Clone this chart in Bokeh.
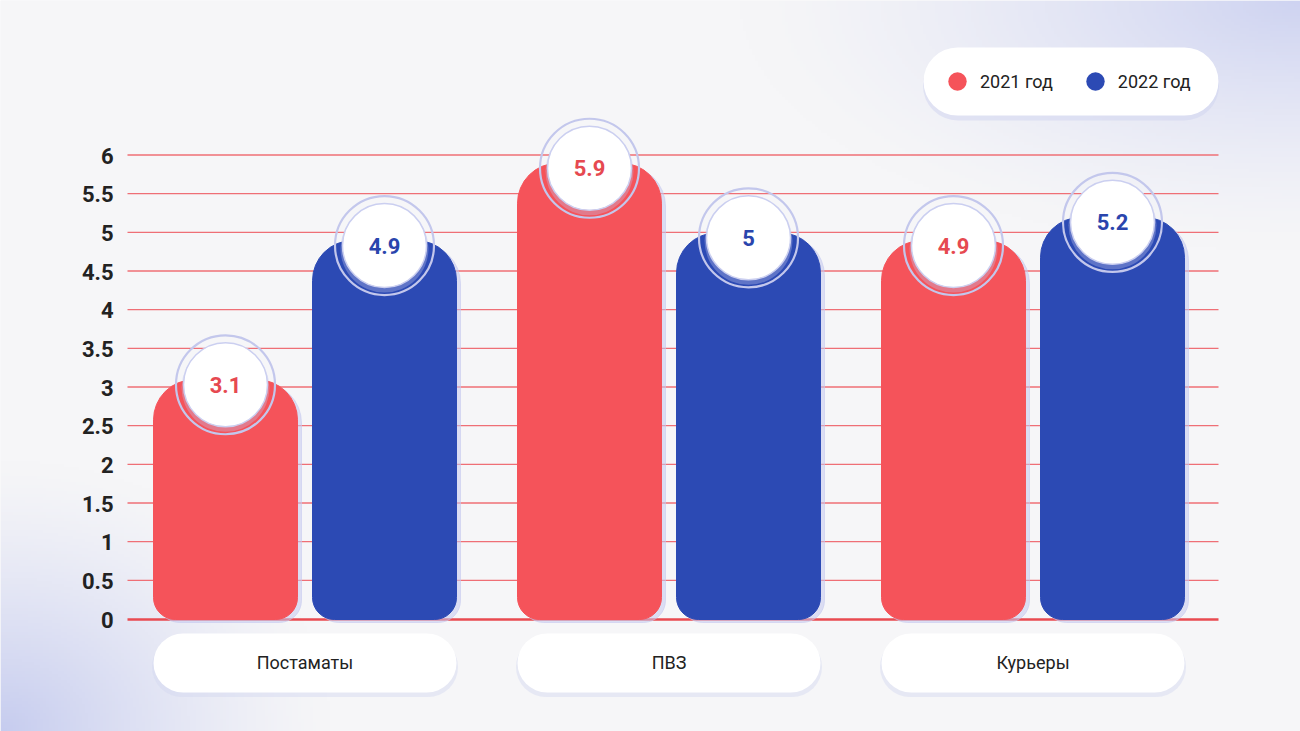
import numpy as np
from bokeh.plotting import figure
from bokeh.models import (Range1d, LinearAxis, FixedTicker, ColumnDataSource,
                          Legend, LegendItem)
from bokeh.transform import dodge
from bokeh.core.properties import value
from bokeh.embed import file_html
from bokeh.resources import INLINE

# ---------------- data ----------------
categories = ["Постаматы", "ПВЗ", "Курьеры"]
years = ["2021 год", "2022 год"]
values_2021 = [3.1, 5.9, 4.9]
values_2022 = [4.9, 5.0, 5.2]
labels_2021 = ["3.1", "5.9", "4.9"]
labels_2022 = ["4.9", "5", "5.2"]
y_ticks = [0, 0.5, 1, 1.5, 2, 2.5, 3, 3.5, 4, 4.5, 5, 5.5, 6]
y_tick_labels = ["0", "0.5", "1", "1.5", "2", "2.5", "3", "3.5", "4", "4.5", "5", "5.5", "6"]

# ---------------- layout constants (page pixels) ----------------
W, H = 1300, 731
OFF = 0
Y0_PX, Y6_PX = 619.0, 155.0
PPY = (Y0_PX - Y6_PX) / 6.0          # pixels per y unit
G0_PX, GSTEP = 304.5, 364.0          # first group centre, group spacing


def dx(px):
    return (px - G0_PX) / GSTEP


def dy(py):
    return (Y0_PX - py) / PPY


RED = "#f5535a"
BLUE = "#2c4ab4"
RED_TXT = "#e64950"
BLUE_TXT = "#2a45ad"
BAR_OFF = 79.5 / GSTEP
BAR_W = 144.0 / GSTEP

p = figure(width=W, height=H, output_backend="svg", toolbar_location=None,
           x_range=Range1d(dx(OFF), dx(OFF + W)),
           y_range=Range1d(dy(OFF + H), dy(OFF)),
           x_axis_type=None, y_axis_type=None, min_border=0)
p.outline_line_color = None
p.background_fill_color = "#f5f5f7"
p.border_fill_color = "#f5f5f7"
p.xgrid.visible = False
p.ygrid.visible = False

# ---------------- background gradient ----------------
step = 3
gw, gh = W // step + 1, H // step + 1
jj, ii = np.meshgrid(np.arange(gw), np.arange(gh))
px = OFF + (jj + 0.5) * W / gw
py = OFF + H - (ii + 0.5) * H / gh      # row 0 is bottom
base = np.array([246, 246, 248], dtype=float)
c_tr = np.array([206, 211, 241], dtype=float)
c_bl = np.array([198, 204, 239], dtype=float)
w_tr = np.clip(1 - np.sqrt(((px - 1300) / 560.0) ** 2 + (py / 250.0) ** 2), 0, 1) ** 1.4
w_bl = np.clip(1 - np.sqrt((px / 330.0) ** 2 + ((py - 731) / 270.0) ** 2), 0, 1) ** 1.3
rgb = base[None, None, :] * (1 - w_tr[..., None]) + c_tr * w_tr[..., None]
rgb = rgb * (1 - w_bl[..., None]) + c_bl * w_bl[..., None]
img = np.empty((gh, gw), dtype=np.uint32)
view = img.view(dtype=np.uint8).reshape((gh, gw, 4))
view[..., 0] = rgb[..., 0].astype(np.uint8)
view[..., 1] = rgb[..., 1].astype(np.uint8)
view[..., 2] = rgb[..., 2].astype(np.uint8)
view[..., 3] = 255
p.image_rgba(image=[img], x=dx(OFF), y=dy(OFF + H), dw=dx(OFF + W) - dx(OFF),
             dh=dy(OFF) - dy(OFF + H))

# ---------------- grid lines ----------------
gx0, gx1 = dx(127), dx(1218)
grid_src = ColumnDataSource(dict(y=[t for t in y_ticks if t != 0]))
p.segment(x0=gx0, x1=gx1, y0=dodge("y", 0.5 / PPY), y1=dodge("y", 0.5 / PPY),
          source=grid_src, line_color="#ef6f76", line_width=1.3)
p.segment(x0=gx0, x1=gx1, y0=0, y1=0, line_color="#e94a51", line_width=2.6)

# ---------------- bars ----------------
idx = list(range(len(categories)))
src21 = ColumnDataSource(dict(x=[i - BAR_OFF for i in idx], top=values_2021,
                              lab=labels_2021, cat=categories))
src22 = ColumnDataSource(dict(x=[i + BAR_OFF for i in idx], top=values_2022,
                              lab=labels_2022, cat=categories))

for src, col in ((src21, RED), (src22, BLUE)):
    p.vbar(x=dodge("x", 4 / GSTEP), top=dodge("top", -3 / PPY), bottom=-3 / PPY,
           width=BAR_W, source=src, color="#c4c9ee", alpha=0.55,
           border_radius=[40, 40, 22, 22])
    p.vbar(x="x", top="top", bottom=0, width=BAR_W, source=src, color=col,
           border_radius=[40, 40, 22, 22])

# ---------------- value badges ----------------
for src, tcol in ((src21, RED_TXT), (src22, BLUE_TXT)):
    yc = dodge("top", -5 / PPY)
    p.scatter(x="x", y=dodge("top", -8 / PPY), source=src, marker="circle", size=88,
              fill_color="#bfc4ea", fill_alpha=0.35, line_color=None)
    p.scatter(x="x", y=yc, source=src, marker="circle", size=84,
              fill_color="white", line_color="#cbcff0", line_width=1.5)
    p.scatter(x="x", y=yc, source=src, marker="circle", size=99,
              fill_color=None, line_color="#c3c7ec", line_width=2.2)
    p.text(x="x", y=yc, text="lab", source=src, text_align="center",
           text_baseline="middle", text_font=value("Roboto"),
           text_font_style="bold", text_font_size="22px", text_color=tcol)

# ---------------- category pills ----------------
pill_y = dy(662.5)
pill_src = ColumnDataSource(dict(x=idx, cat=categories))
p.rect(x="x", y=pill_y - 4 / PPY, width=306, height=60, width_units="screen",
       height_units="screen", source=pill_src, fill_color="#d3d6f0", fill_alpha=0.45,
       line_color=None, border_radius=30)
p.rect(x="x", y=pill_y, width=303, height=59, width_units="screen",
       height_units="screen", source=pill_src, fill_color="white",
       line_color=None, border_radius=30)

# ---------------- legend pill ----------------
lx, ly = dx(1070.5), dy(81)
p.rect(x=lx, y=ly - 4 / PPY, width=296, height=70, width_units="screen",
       height_units="screen", fill_color="#d0d4f0", fill_alpha=0.5,
       line_color=None, border_radius=35)
p.rect(x=lx, y=ly, width=295, height=68, width_units="screen",
       height_units="screen", fill_color="white", line_color=None, border_radius=34)

# ---------------- axes ----------------
yaxis = LinearAxis(fixed_location=dx(118), ticker=FixedTicker(ticks=y_ticks),
                   major_label_overrides=dict(zip(y_ticks, y_tick_labels)))
yaxis.axis_line_color = None
yaxis.major_tick_line_color = None
yaxis.minor_tick_line_color = None
yaxis.major_tick_out = 0
yaxis.major_tick_in = 0
yaxis.major_label_standoff = 5
yaxis.major_label_text_font = "Roboto"
yaxis.major_label_text_font_style = "bold"
yaxis.major_label_text_font_size = "22px"
yaxis.major_label_text_color = "#222222"
p.add_layout(yaxis, "left")

xaxis = LinearAxis(fixed_location=pill_y + 11.5 / PPY, ticker=FixedTicker(ticks=idx),
                   major_label_overrides=dict(zip(idx, categories)))
xaxis.axis_line_color = None
xaxis.major_tick_line_color = None
xaxis.minor_tick_line_color = None
xaxis.major_tick_out = 0
xaxis.major_tick_in = 0
xaxis.major_label_standoff = 0
xaxis.major_label_text_font = "Roboto"
xaxis.major_label_text_font_size = "18px"
xaxis.major_label_text_color = "#222222"
p.add_layout(xaxis, "below")

# ---------------- legend ----------------
d21 = p.scatter(x=[np.nan], y=[np.nan], marker="circle", fill_color=RED, line_color=None)
d22 = p.scatter(x=[np.nan], y=[np.nan], marker="circle", fill_color=BLUE, line_color=None)
legend = Legend(items=[LegendItem(label=years[0], renderers=[d21]),
                       LegendItem(label=years[1], renderers=[d22])],
                orientation="horizontal", location=(934, H - 81 - 23),
                glyph_width=46, glyph_height=46, label_standoff=-10, spacing=19,
                padding=0, margin=0, border_line_color=None, background_fill_alpha=0,
                label_text_font="Roboto", label_text_font_size="18px",
                label_text_color="#222222", label_text_baseline="middle")
p.add_layout(legend)

open("out.html", "w").write(file_html(p, INLINE))
